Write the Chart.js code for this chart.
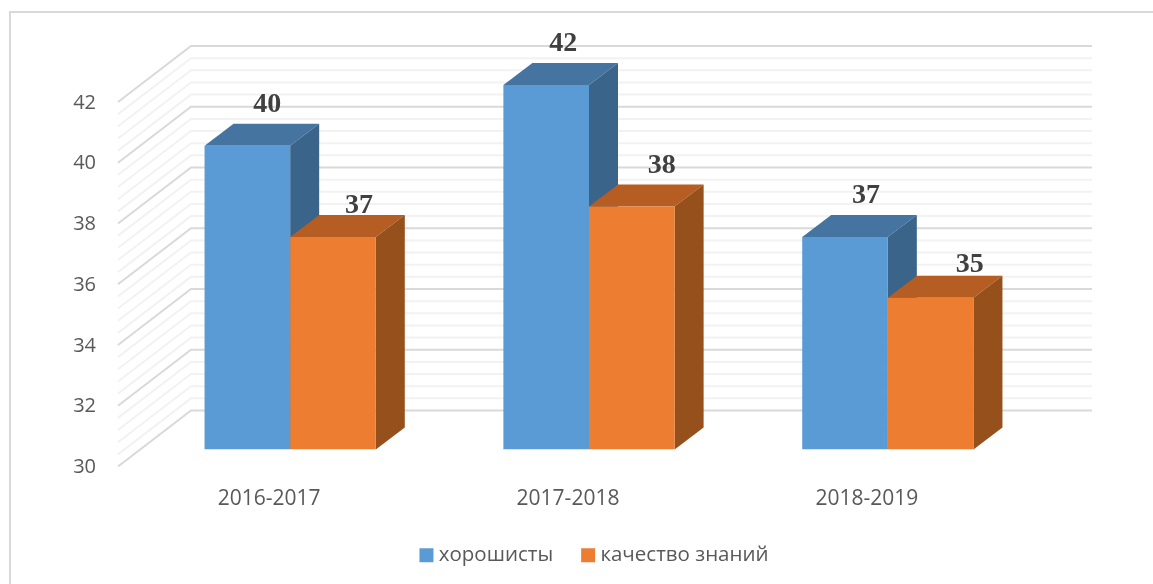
<!DOCTYPE html>
<html>
<head>
<meta charset="utf-8">
<style>
  html, body { margin: 0; padding: 0; background: #fff; }
  #wrap { width: 1153px; height: 584px; }
</style>
<script src="https://cdn.jsdelivr.net/npm/chart.js@4"></script>
</head>
<body>
<div id="wrap"><canvas id="myChart" width="1153" height="584"></canvas></div>
<script>
const years = ["2016-2017", "2017-2018", "2018-2019"];
const horoshisty = [40, 42, 37];
const kachestvo = [37, 38, 35];
const seriesNames = ["хорошисты", "качество знаний"];
const yMin = 30;
const yMax = 42;
const yStep = 2;

// shift of each value label from the bar's top centre, [dx, dy]
const labelNudge = [
  [[20, -41], [17, -41], [21, -41]],
  [[26, -31], [30, -41], [39, -33]],
];

const faces = [
  { front: "#5b9bd5", top: "#4674a1", side: "#3a6489" },
  { front: "#ed7d31", top: "#b55d22", side: "#95501b" },
];

const barDepth = { x: 29, y: -22 };
const wall = { left: 118, back: 191, right: 1092, frontDrop: 17, backRise: 39 };

const box3d = {
  id: "box3d",
  beforeDraw(chart) {
    const ctx = chart.ctx;
    ctx.fillStyle = "#d9d9d9";
    ctx.fillRect(9, 11, chart.width - 9, 2);
    ctx.fillRect(9, 11, 2, chart.height - 11);
  },
  afterLayout(chart) {
    chart.legend.left += 7.5;
    chart.legend.right += 7.5;
    chart.legend.top = 512;
  },
  beforeDatasetsDraw(chart) {
    const ctx = chart.ctx;
    const y = chart.scales.y;
    ctx.save();
    ctx.lineWidth = 2;
    // five minor lines per major step, majors go on top
    for (let pass = 0; pass < 2; pass++) {
      for (let i = 0; i <= (yMax - yMin) * 5 / yStep; i++) {
        const major = i % 5 === 0;
        if (major !== (pass === 1)) continue;
        const py = y.getPixelForValue(yMin + i * yStep / 5);
        ctx.strokeStyle = major ? "#d9d9d9" : "#f2f2f2";
        ctx.beginPath();
        ctx.moveTo(wall.left, py + wall.frontDrop);
        ctx.lineTo(wall.back, py - wall.backRise);
        ctx.lineTo(wall.right, py - wall.backRise);
        ctx.stroke();
      }
    }
    ctx.restore();

    // tops and sides first, the library then paints the fronts over them
    faces.forEach((c, i) => {
      chart.getDatasetMeta(i).data.forEach((bar) => {
        const l = bar.x - bar.width / 2;
        const r = bar.x + bar.width / 2;
        ctx.fillStyle = c.top;
        ctx.beginPath();
        ctx.moveTo(l, bar.y);
        ctx.lineTo(l + barDepth.x, bar.y + barDepth.y);
        ctx.lineTo(r + barDepth.x, bar.y + barDepth.y);
        ctx.lineTo(r, bar.y);
        ctx.closePath();
        ctx.fill();
        ctx.fillStyle = c.side;
        ctx.beginPath();
        ctx.moveTo(r, bar.y);
        ctx.lineTo(r + barDepth.x, bar.y + barDepth.y);
        ctx.lineTo(r + barDepth.x, bar.base + barDepth.y);
        ctx.lineTo(r, bar.base);
        ctx.closePath();
        ctx.fill();
      });
    });
  },
  afterDatasetsDraw(chart) {
    const ctx = chart.ctx;
    ctx.save();
    ctx.font = "bold 28px 'Liberation Serif'";
    ctx.fillStyle = "#404040";
    ctx.textAlign = "center";
    ctx.textBaseline = "middle";
    chart.data.datasets.forEach((ds, i) => {
      chart.getDatasetMeta(i).data.forEach((bar, j) => {
        const n = labelNudge[i][j];
        ctx.fillText(ds.data[j], bar.x + n[0], bar.y + n[1]);
      });
    });
    ctx.restore();
  },
};

new Chart(document.getElementById("myChart"), {
  type: "bar",
  data: {
    labels: years,
    datasets: [
      { label: seriesNames[0], data: horoshisty, backgroundColor: faces[0].front, base: yMin },
      { label: seriesNames[1], data: kachestvo, backgroundColor: faces[1].front, base: yMin },
    ],
  },
  plugins: [box3d],
  options: {
    responsive: false,
    animation: false,
    categoryPercentage: 0.573,
    barPercentage: 1,
    layout: { padding: { left: 0, right: 115.75, top: 85, bottom: 0 } },
    scales: {
      x: {
        grid: { display: false },
        border: { display: false },
        afterFit(scale) { scale.height = 71; },
        ticks: {
          color: "#595959",
          font: { family: "'Open Sans'", size: 21 },
          labelOffset: -21,
          padding: 29,
        },
      },
      y: {
        min: yMin,
        max: yMax,
        grid: { display: false },
        border: { display: false },
        afterFit(scale) { scale.width = 140.75; },
        ticks: {
          stepSize: yStep,
          color: "#595959",
          font: { family: "'Open Sans'", size: 20 },
          labelOffset: 18,
          padding: 36.75,
        },
      },
    },
    plugins: {
      tooltip: { enabled: false },
      legend: {
        position: "bottom",
        fullSize: false,
        labels: {
          usePointStyle: true,
          pointStyle: "rect",
          boxWidth: 4,
          boxHeight: 14,
          color: "#595959",
          font: { family: "'Open Sans'", size: 20.5 },
          padding: 33,
        },
      },
    },
  },
});
</script>
</body>
</html>
